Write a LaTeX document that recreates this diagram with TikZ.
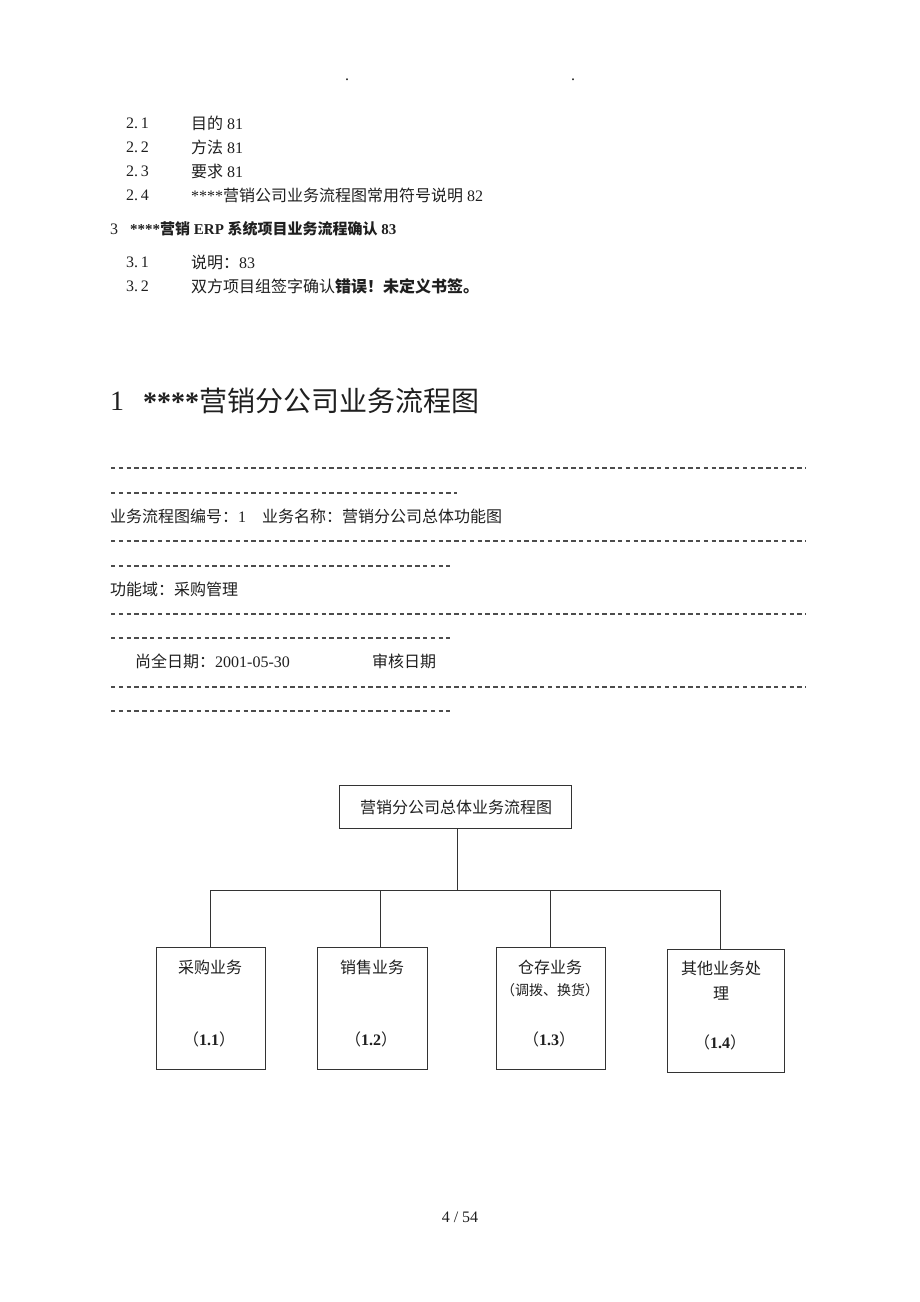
\documentclass[tikz,border=0pt]{standalone}
\usepackage{fontspec}
\setmainfont{Liberation Serif}
\newfontfamily\cjk{Noto Sans CJK SC}
\newcommand{\ZH}[1]{{\cjk #1}}
\begin{document}
\begin{tikzpicture}[x=1pt,y=-1pt,
  txt/.style={anchor=west, inner sep=0pt, text=black!88, font=\fontsize{16}{18}\selectfont},
  ctxt/.style={anchor=center, inner sep=0pt, text=black!88, font=\fontsize{16}{18}\selectfont},
  dashrow/.style={draw=black!70, line width=1.1pt, dash pattern=on 4.4pt off 3.4pt},
  bx/.style={draw=black!80, line width=0.9pt, rectangle, inner sep=0pt},
  conn/.style={draw=black!80, line width=0.9pt}]
\useasboundingbox (0,0) rectangle (920,1302);

% header dots
\node[ctxt] (dot1) at (347,80) {.};
\node[ctxt] (dot2) at (573,80) {.};

% table of contents
\node[txt] (n21) at (126,123) {2.\,1};
\node[txt] (t21) at (191,123) {\ZH{目的} 81};
\node[txt] (n22) at (126,147) {2.\,2};
\node[txt] (t22) at (191,147) {\ZH{方法} 81};
\node[txt] (n23) at (126,171) {2.\,3};
\node[txt] (t23) at (191,171) {\ZH{要求} 81};
\node[txt] (n24) at (126,195) {2.\,4};
\node[txt] (t24) at (191,195) {****\ZH{营销公司业务流程图常用符号说明} 82};
\node[txt] (n3) at (110,229) {3};
\node[txt, font=\fontsize{15}{17}\selectfont\bfseries] (t3) at (130,229) {****\ZH{\bfseries 营销} ERP \ZH{\bfseries 系统项目业务流程确认} 83};
\node[txt] (n31) at (126,262) {3.\,1};
\node[txt] (t31) at (191,262) {\ZH{说明：}83};
\node[txt] (n32) at (126,286) {3.\,2};
\node[txt] (t32) at (191,286) {\ZH{双方项目组签字确认}\ZH{\bfseries 错误！未定义书签。}};

% heading
\node[txt, font=\fontsize{28}{31}\selectfont] (h1) at (110,401) {1};
\node[txt, font=\fontsize{28}{31}\selectfont] (h2) at (143,401) {\textbf{****}\ZH{营销分公司业务流程图}};

% form rows
\draw[dashrow] (111,468) -- (806,468);
\draw[dashrow] (111,493) -- (457,493);
\node[txt] (f1) at (110,516) {\ZH{业务流程图编号：}1\hspace{16pt}\ZH{业务名称：营销分公司总体功能图}};
\draw[dashrow] (111,541) -- (806,541);
\draw[dashrow] (111,566) -- (450,566);
\node[txt] (f2) at (110,589) {\ZH{功能域：采购管理}};
\draw[dashrow] (111,614) -- (806,614);
\draw[dashrow] (111,638) -- (450,638);
\node[txt] (f3) at (135,661) {\ZH{尚全日期：}2001-05-30};
\node[txt] (f4) at (372,661) {\ZH{审核日期}};
\draw[dashrow] (111,687) -- (806,687);
\draw[dashrow] (111,711) -- (450,711);

% diagram
\node[bx, minimum width=232pt, minimum height=43pt] (top) at (455,806.5) {};
\node[ctxt] (toplbl) at (456,807) {\ZH{营销分公司总体业务流程图}};

\node[bx, minimum width=109pt, minimum height=122pt] (b1) at (210.5,1008) {};
\node[bx, minimum width=110pt, minimum height=122pt] (b2) at (372,1008) {};
\node[bx, minimum width=109pt, minimum height=122pt] (b3) at (550.5,1008) {};
\node[bx, minimum width=117pt, minimum height=123pt] (b4) at (725.5,1010.5) {};

\node[ctxt] (l1a) at (210,967) {\ZH{采购业务}};
\node[ctxt] (l1b) at (209,1039) {\ZH{（}\textbf{1.1}\ZH{）}};
\node[ctxt] (l2a) at (372,967) {\ZH{销售业务}};
\node[ctxt] (l2b) at (371,1039) {\ZH{（}\textbf{1.2}\ZH{）}};
\node[ctxt] (l3a) at (550,967) {\ZH{仓存业务}};
\node[ctxt, font=\fontsize{14}{16}\selectfont] (l3c) at (550,990) {\ZH{（调拨、换货）}};
\node[ctxt] (l3b) at (549,1039) {\ZH{（}\textbf{1.3}\ZH{）}};
\node[ctxt] (l4a) at (721,968) {\ZH{其他业务处}};
\node[ctxt] (l4c) at (721,994) {\ZH{理}};
\node[ctxt] (l4b) at (720,1042) {\ZH{（}\textbf{1.4}\ZH{）}};

\coordinate (jt) at (457,890);
\coordinate (j1) at (210,890);
\coordinate (j2) at (380,890);
\coordinate (j3) at (550,890);
\coordinate (j4) at (720,890);
\draw[conn] (jt |- top.south) -- (jt);
\draw[conn] (j1 |- b1.north) -- (j1) -- (j4) -- (j4 |- b4.north);
\draw[conn] (j2) -- (j2 |- b2.north);
\draw[conn] (j3) -- (j3 |- b3.north);

% page number
\node[ctxt] (pg) at (460,1217) {4 / 54};
\end{tikzpicture}
\end{document}
